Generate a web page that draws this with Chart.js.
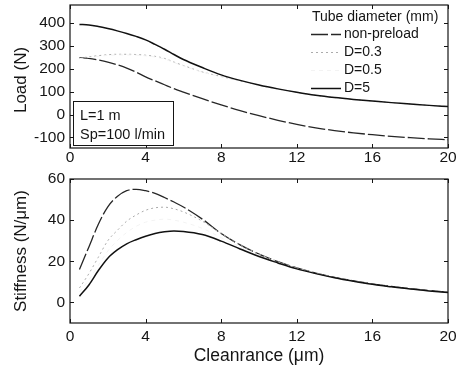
<!DOCTYPE html>
<html>
<head>
<meta charset="utf-8">
<script src="https://cdn.jsdelivr.net/npm/chart.js@4.4.1/dist/chart.umd.min.js"></script>
<style>
  html, body { margin: 0; padding: 0; background: #fff; }
  #wrap { position: relative; width: 459px; height: 367px; overflow: hidden; }
  #wrap canvas { position: absolute; left: 0; }
</style>
</head>
<body>
<div id="wrap">
  <canvas id="load" width="459" height="167" style="top:0"></canvas>
  <canvas id="stiff" width="459" height="200" style="top:167px"></canvas>
</div>
<script>
// clearance (um)
const clearance = [0.5, 1, 1.5, 2, 2.5, 3, 3.5, 4, 4.5, 5, 5.5, 6, 7, 8, 9, 10, 11, 12, 13, 14, 15, 16, 17, 18, 19, 20];

// load (N)
const loadNonPreload = [248, 245, 238, 229, 217, 203, 185, 164, 147, 130, 113, 98, 69, 42, 17, -5, -25, -43, -58, -70, -80, -88, -95, -101, -106, -110];
const loadD03 = [245, 252, 257, 261, 263, 263, 262, 259, 254, 245, 229, 214, 186, 166, 147, 128, 111, 97, 84, 74, 66, 59, 52, 46, 40, 35];
const loadD05 = [244, 249, 254, 258, 260, 260, 259, 256, 251, 242, 227, 212, 185, 165, 147, 128, 111, 97, 84, 74, 66, 59, 52, 46, 40, 35];
const loadD5 = [393, 391, 384, 375, 365, 354, 341, 326, 306, 285, 262, 240, 205, 173, 149, 129, 112, 97, 84, 74, 66, 59, 52, 46, 40, 35];

// stiffness (N/um)
const stiffNonPreload = [16, 27, 38, 46.5, 51.5, 54.3, 55, 54.3, 53, 51, 48.8, 46.4, 40.5, 33.5, 28, 23.5, 19.8, 16.8, 14.3, 12.2, 10.5, 9, 7.8, 6.7, 5.8, 5];
const stiffD03 = [7, 14, 22, 30, 35, 39.5, 42.5, 44.8, 46, 46.3, 45.5, 44, 39.5, 33.5, 28, 23.5, 19.8, 16.8, 14.3, 12.2, 10.5, 9, 7.8, 6.7, 5.8, 5];
const stiffD05 = [5, 11, 18, 25, 30, 34, 37, 39, 40, 40.5, 40, 39, 36, 31.5, 27, 23, 19.5, 16.6, 14.2, 12.1, 10.4, 8.9, 7.7, 6.6, 5.7, 4.9];
const stiffD5 = [3, 8.5, 15.5, 21.5, 25.5, 28.5, 30.5, 32.2, 33.5, 34.3, 34.7, 34.5, 33, 29.8, 26, 22.3, 19.2, 16.3, 14, 12, 10.3, 8.8, 7.6, 6.5, 5.6, 4.8];

const xTicks = [0, 4, 8, 12, 16, 20];
const loadTicks = [-100, 0, 100, 200, 300, 400];
const stiffTicks = [0, 20, 40, 60];

const seriesNames = ['non-preload', 'D=0.3', 'D=0.5', 'D=5'];
const legendTitle = 'Tube diameter (mm)';
const noteLines = ['L=1 m', 'Sp=100 l/min'];

const FONT = '"Liberation Sans", Arial, Helvetica, sans-serif';
const INK = '#151515';

const styles = [
  { borderColor: '#262626', borderWidth: 1.3, borderDash: [17, 3] },
  { borderColor: '#ababab', borderWidth: 1, borderDash: [2, 3] },
  { borderColor: '#f3f3f3', borderWidth: 1, borderDash: [4, 4] },
  { borderColor: '#111', borderWidth: 1.5, borderDash: [] }
];

function makeDatasets(list) {
  return list.map((vals, i) => Object.assign({
    label: seriesNames[i],
    data: clearance.map((c, k) => ({ x: c, y: vals[k] })),
    pointRadius: 0,
    fill: false,
    tension: 0.4,
    cubicInterpolationMode: 'monotone',
    order: 3 - i
  }, styles[i]));
}

const framePlugin = {
  id: 'frame',
  afterDraw(chart) {
    const { ctx, chartArea: a, scales: { x, y } } = chart;
    ctx.save();
    ctx.strokeStyle = INK;
    ctx.lineWidth = 1.2;
    ctx.strokeRect(a.left, a.top, a.right - a.left, a.bottom - a.top);
    ctx.lineWidth = 1;
    ctx.beginPath();
    x.ticks.forEach(t => {
      const px = Math.round(x.getPixelForValue(t.value)) + 0.5;
      ctx.moveTo(px, a.bottom); ctx.lineTo(px, a.bottom - 4);
      ctx.moveTo(px, a.top); ctx.lineTo(px, a.top + 4);
    });
    y.ticks.forEach(t => {
      const py = Math.round(y.getPixelForValue(t.value)) + 0.5;
      ctx.moveTo(a.left, py); ctx.lineTo(a.left + 4, py);
      ctx.moveTo(a.right, py); ctx.lineTo(a.right - 4, py);
    });
    ctx.stroke();

    const o = chart.options.plugins.frame || {};
    ctx.fillStyle = INK;
    if (o.yTitle) {
      ctx.save();
      ctx.translate(o.yTitle.x, o.yTitle.y);
      ctx.rotate(-Math.PI / 2);
      ctx.font = '17px ' + FONT;
      ctx.textAlign = 'center';
      ctx.textBaseline = 'middle';
      ctx.fillText(o.yTitle.text, 0, 0);
      ctx.restore();
    }
    if (o.xTitle) {
      ctx.font = '17.5px ' + FONT;
      ctx.textAlign = 'center';
      ctx.textBaseline = 'alphabetic';
      ctx.fillText(o.xTitle.text, (a.left + a.right) / 2, o.xTitle.y);
    }
    if (o.legend) {
      ctx.font = '14px ' + FONT;
      ctx.textAlign = 'left';
      ctx.textBaseline = 'middle';
      ctx.fillText(legendTitle, 312, 17);
      chart.data.datasets.forEach((ds, i) => {
        const ly = 34 + i * 18;
        ctx.save();
        ctx.strokeStyle = ds.borderColor;
        ctx.lineWidth = ds.borderWidth;
        ctx.setLineDash(ds.borderDash || []);
        ctx.beginPath();
        ctx.moveTo(311, ly + 0.5);
        ctx.lineTo(341, ly + 0.5);
        ctx.stroke();
        ctx.restore();
        ctx.fillText(ds.label, 344, ly);
      });
    }
    if (o.note) {
      ctx.fillStyle = '#fff';
      ctx.fillRect(73.5, 101.5, 100, 44);
      ctx.strokeStyle = INK;
      ctx.lineWidth = 1;
      ctx.strokeRect(73.5, 101.5, 100, 44);
      ctx.fillStyle = INK;
      ctx.font = '14.5px ' + FONT;
      ctx.textAlign = 'left';
      ctx.textBaseline = 'middle';
      ctx.fillText(noteLines[0], 80, 116);
      ctx.fillText(noteLines[1], 80, 135);
    }
    ctx.restore();
  }
};

function axisX(height, pad) {
  return {
    type: 'linear', min: 0, max: 20,
    afterBuildTicks: s => { s.ticks = xTicks.map(v => ({ value: v })); },
    afterFit: s => { s.height = height; s.paddingLeft = 0; s.paddingRight = 0; },
    grid: { display: false, drawTicks: false },
    border: { display: false },
    ticks: { color: INK, font: { family: FONT, size: 15.5 }, padding: pad, maxRotation: 0, autoSkip: false }
  };
}

function axisY(min, max, ticks) {
  return {
    type: 'linear', min: min, max: max,
    afterBuildTicks: s => { s.ticks = ticks.map(v => ({ value: v })); },
    afterFit: s => { s.width = 70; s.paddingTop = 0; s.paddingBottom = 0; },
    grid: { display: false, drawTicks: false },
    border: { display: false },
    ticks: { color: INK, font: { family: FONT, size: 15.5 }, padding: 5 }
  };
}

new Chart(document.getElementById('load'), {
  type: 'line',
  data: { datasets: makeDatasets([loadNonPreload, loadD03, loadD05, loadD5]) },
  options: {
    responsive: false,
    animation: false,
    layout: { padding: { left: 0, right: 11, top: 5, bottom: 0 } },
    plugins: {
      legend: { display: false },
      tooltip: { enabled: false },
      frame: { yTitle: { text: 'Load (N)', x: 21, y: 80 }, legend: true, note: true }
    },
    scales: { x: axisX(19, 0), y: axisY(-146, 478, loadTicks) }
  },
  plugins: [framePlugin]
});

new Chart(document.getElementById('stiff'), {
  type: 'line',
  data: { datasets: makeDatasets([stiffNonPreload, stiffD03, stiffD05, stiffD5]) },
  options: {
    responsive: false,
    animation: false,
    layout: { padding: { left: 0, right: 11, top: 12, bottom: 0 } },
    plugins: {
      legend: { display: false },
      tooltip: { enabled: false },
      frame: { yTitle: { text: 'Stiffness (N/\u03bcm)', x: 21, y: 84 }, xTitle: { text: 'Cleanrance (\u03bcm)', y: 194 } }
    },
    scales: { x: axisX(44, 4), y: axisY(-10, 60, stiffTicks) }
  },
  plugins: [framePlugin]
});
</script>
</body>
</html>
